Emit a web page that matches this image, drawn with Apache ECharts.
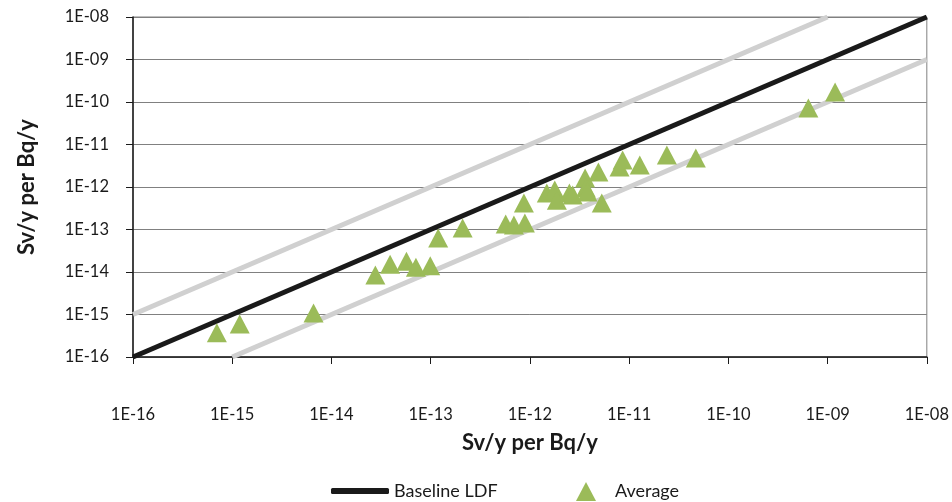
<!DOCTYPE html>
<html><head><meta charset="utf-8">
<script src="https://cdn.jsdelivr.net/npm/echarts@6/dist/echarts.min.js"></script>
<style>html,body{margin:0;padding:0;background:#fff}#c{width:952px;height:502px}</style>
</head><body><div id="c"></div>
<script>
const tickLabels = ['1E-16','1E-15','1E-14','1E-13','1E-12','1E-11','1E-10','1E-09','1E-08'];
const axisTitle = 'Sv/y per Bq/y';
const baselineLDF = [[1e-16, 1e-16], [1e-8, 1e-8]];
const upperBand = [[1e-16, 1e-15], [1e-9, 1e-8]];
const lowerBand = [[1e-15, 1e-16], [1e-8, 1e-9]];
const avgX = [7.0e-16, 1.19e-15, 6.6e-15, 2.77e-14, 3.9e-14, 5.7e-14, 7.1e-14, 9.9e-14, 1.19e-13, 2.1e-13, 5.7e-13, 6.9e-13, 8.9e-13, 8.7e-13, 1.48e-12, 1.78e-12, 1.87e-12, 2.5e-12, 2.7e-12, 3.6e-12, 3.66e-12, 3.8e-12, 5.3e-12, 4.9e-12, 8.0e-12, 8.6e-12, 1.28e-11, 2.4e-11, 4.7e-11, 6.4e-10, 1.19e-9];
const avgY = [3.7e-16, 6.0e-16, 1.08e-15, 8.5e-15, 1.53e-14, 1.8e-14, 1.3e-14, 1.4e-14, 6.3e-14, 1.08e-13, 1.35e-13, 1.28e-13, 1.42e-13, 4.2e-13, 7.2e-13, 8.5e-13, 4.9e-13, 7.2e-13, 6.5e-13, 1.63e-12, 9.5e-13, 7.6e-13, 4.2e-13, 2.25e-12, 2.96e-12, 4.3e-12, 3.3e-12, 5.7e-12, 4.8e-12, 7.2e-11, 1.72e-10];

const FONT = 'Lato';
const fmt = v => tickLabels[Math.round(Math.log10(v)) + 16] || '';
function axis(isX) {
  return {
    type: 'log', logBase: 10, min: 1e-16, max: 1e-8, interval: 1,
    name: axisTitle, nameLocation: 'middle', nameGap: isX ? 75 : 95,
    nameTextStyle: { fontFamily: FONT, fontSize: 22, fontWeight: 'bold', color: '#1a1a1a' },
    axisLine: { show: true, onZero: false, lineStyle: { color: '#1a1a1a', width: 1.5 } },
    axisTick: { show: true, length: 7, lineStyle: { color: '#1a1a1a', width: 1 } },
    axisLabel: { formatter: fmt, fontFamily: FONT, fontSize: 16.5, color: '#1a1a1a', margin: isX ? 49 : 24 },
    splitLine: { show: !isX, lineStyle: { color: '#808080', width: 1 } },
    minorTick: { show: false }, minorSplitLine: { show: false }
  };
}
const chart = echarts.init(document.getElementById('c'));
chart.setOption({
  animation: false,
  backgroundColor: '#fff',
  grid: { left: 133, right: 24, top: 17, bottom: 145, show: true, borderColor: '#808080', borderWidth: 1 },
  xAxis: axis(true),
  yAxis: axis(false),
  legend: [
    { data: ['Baseline LDF'], left: 326, top: 477, icon: 'roundRect', itemWidth: 58, itemHeight: 6,
      textStyle: { fontFamily: FONT, fontSize: 18, color: '#1a1a1a' } },
    { data: ['Average'], left: 571, top: 477, icon: 'triangle', itemWidth: 20, itemHeight: 19,
      textStyle: { fontFamily: FONT, fontSize: 18, color: '#1a1a1a', padding: [0, 0, 0, 14] } }
  ],
  series: [
    { name: 'upper', type: 'line', data: upperBand, showSymbol: false, silent: true,
      lineStyle: { color: '#d0d0d0', width: 5 }, z: 1 },
    { name: 'lower', type: 'line', data: lowerBand, showSymbol: false, silent: true,
      lineStyle: { color: '#d0d0d0', width: 5 }, z: 1 },
    { name: 'Baseline LDF', type: 'line', data: baselineLDF, showSymbol: false,
      itemStyle: { color: '#1a1a1a' }, lineStyle: { color: '#1a1a1a', width: 5 }, z: 2 },
    { name: 'Average', type: 'scatter', data: avgX.map((x, i) => [x, avgY[i]]),
      symbol: 'triangle', symbolSize: [20, 19], itemStyle: { color: '#9bbb59', opacity: 1 }, z: 3 }
  ]
});
</script></body></html>
